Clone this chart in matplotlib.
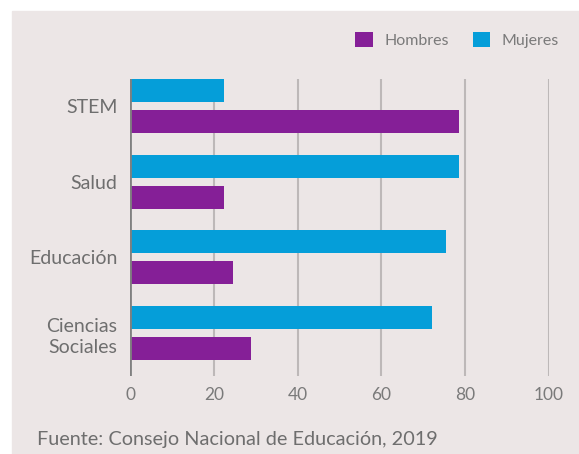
import numpy as np
import matplotlib.pyplot as plt
from matplotlib.patches import Rectangle

# ##### DATA ######
categories = ['STEM', 'Salud', 'Educación', 'Ciencias\nSociales']
hombres = [78.6, 22.4, 24.7, 28.9]
mujeres = [22.4, 78.6, 75.3, 72.1]
x_ticks = [0, 20, 40, 60, 80, 100]
source = 'Fuente: Consejo Nacional de Educación, 2019'
##################

bg = '#ECE6E6'
purple = '#851F97'
blue = '#059ED9'
text_col = '#6E6E6E'
W, H = 579, 454

plt.rcParams['font.family'] = ['Lato', 'DejaVu Sans']

fig = plt.figure(figsize=(W / 100, H / 100), dpi=100)
fig.patch.set_facecolor('white')
fig.patches.append(Rectangle((12 / W, 0), 1 - 12 / W, 1 - 11 / H,
                             transform=fig.transFigure, color=bg, zorder=-10))

# axes placed in pixel coordinates
left, right, top, bottom = 130, 549, 79, 376
ax = fig.add_axes([left / W, (H - bottom) / H, (right - left) / W, (bottom - top) / H])
ax.set_facecolor(bg)

y = np.arange(len(categories))[::-1]
h = 0.304
off = 0.205
ax.barh(y + off, mujeres, height=h, color=blue, label='Mujeres', zorder=3)
ax.barh(y - off, hombres, height=h, color=purple, label='Hombres', zorder=3)

ax.set_xlim(0, 100)
ax.set_ylim(-0.568, 3.357)
ax.set_xticks(x_ticks)
ax.set_xticklabels([str(t) for t in x_ticks], color='#7A7A7A', fontsize=12.5)
ax.set_yticks(y)
ax.set_yticklabels(categories, color=text_col, fontsize=14, ha='right',
                   linespacing=1.3)
ax.tick_params(axis='both', length=0)
ax.tick_params(axis='x', pad=8)
ax.tick_params(axis='y', pad=9)

for t in x_ticks[1:]:
    ax.axvline(t, color='#BDB8B8', lw=1.5, zorder=1)
ax.axvline(0, color='#808080', lw=2, zorder=4)

for s in ax.spines.values():
    s.set_visible(False)

# legend
handles, labels = ax.get_legend_handles_labels()
leg = fig.legend(handles[::-1], labels[::-1], loc='center', ncol=2,
                 bbox_to_anchor=(457 / W, 1 - 40 / H), frameon=False,
                 fontsize=11.5, handlelength=1.1, handleheight=1.1,
                 handletextpad=0.7, columnspacing=1.5)
for t in leg.get_texts():
    t.set_color('#7A7A7A')

fig.text(37 / W, 1 - 439 / H, source, fontsize=14.3, color=text_col,
         ha='left', va='center')

plt.savefig('out.png', dpi=100, facecolor=fig.get_facecolor())
plt.close()
